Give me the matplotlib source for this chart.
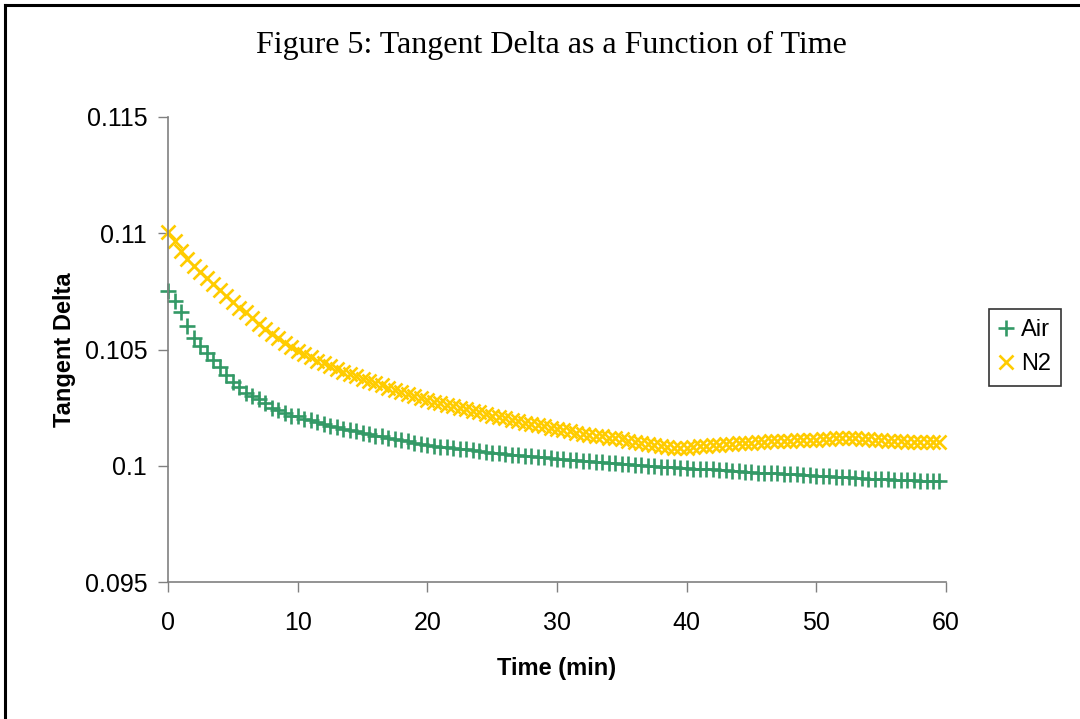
import matplotlib
matplotlib.use("Agg")
import matplotlib.pyplot as plt
from matplotlib.lines import Line2D

# time in minutes, sampled every 0.5 min
time_min = [i * 0.5 for i in range(120)]

air = [0.10752, 0.10710, 0.10660, 0.10600, 0.10548, 0.10515, 0.10485, 0.10455, 0.10425, 0.10392,
       0.10362, 0.10338, 0.10315, 0.10300, 0.10285, 0.10268, 0.10250, 0.10240, 0.10228, 0.10213,
       0.10215, 0.10203, 0.10196, 0.10188, 0.10180, 0.10172, 0.10168, 0.10160, 0.10152, 0.10148,
       0.10142, 0.10136, 0.10130, 0.10128, 0.10120, 0.10115, 0.10110, 0.10105, 0.10100, 0.10092,
       0.10088, 0.10085, 0.10082, 0.10080, 0.10076, 0.10072, 0.10070, 0.10067, 0.10062, 0.10060,
       0.10057, 0.10055, 0.10052, 0.10048, 0.10046, 0.10044, 0.10041, 0.10038, 0.10036, 0.10033,
       0.10030, 0.10028, 0.10025, 0.10024, 0.10021, 0.10019, 0.10017, 0.10015, 0.10013, 0.10011,
       0.10009, 0.10006, 0.10004, 0.10002, 0.10000, 0.09998, 0.09996, 0.09995, 0.09993, 0.09991,
       0.09990, 0.09988, 0.09987, 0.09985, 0.09984, 0.09982, 0.09980, 0.09978, 0.09976, 0.09974,
       0.09973, 0.09971, 0.09970, 0.09969, 0.09967, 0.09966, 0.09964, 0.09963, 0.09962, 0.09960,
       0.09958, 0.09956, 0.09955, 0.09953, 0.09951, 0.09950, 0.09948, 0.09946, 0.09945, 0.09944,
       0.09942, 0.09941, 0.09940, 0.09939, 0.09938, 0.09937, 0.09936, 0.09935, 0.09934, 0.09934]

n2 = [0.11005, 0.10965, 0.10925, 0.10890, 0.10858, 0.10832, 0.10806, 0.10780, 0.10756, 0.10730,
      0.10705, 0.10680, 0.10660, 0.10635, 0.10610, 0.10590, 0.10565, 0.10548, 0.10528, 0.10510,
      0.10495, 0.10480, 0.10466, 0.10452, 0.10440, 0.10428, 0.10416, 0.10405, 0.10394, 0.10384,
      0.10374, 0.10364, 0.10355, 0.10346, 0.10336, 0.10327, 0.10318, 0.10308, 0.10298, 0.10290,
      0.10282, 0.10275, 0.10268, 0.10262, 0.10255, 0.10248, 0.10242, 0.10236, 0.10230, 0.10222,
      0.10216, 0.10210, 0.10204, 0.10198, 0.10192, 0.10186, 0.10180, 0.10175, 0.10169, 0.10163,
      0.10158, 0.10153, 0.10148, 0.10143, 0.10138, 0.10134, 0.10130, 0.10126, 0.10121, 0.10118,
      0.10113, 0.10108, 0.10103, 0.10098, 0.10094, 0.10088, 0.10084, 0.10080, 0.10078, 0.10076,
      0.10077, 0.10080, 0.10083, 0.10086, 0.10088, 0.10090, 0.10092, 0.10094, 0.10096, 0.10098,
      0.10100, 0.10102, 0.10104, 0.10105, 0.10106, 0.10107, 0.10108, 0.10109, 0.10110, 0.10111,
      0.10112, 0.10114, 0.10116, 0.10118, 0.10120, 0.10120, 0.10118, 0.10116, 0.10114, 0.10112,
      0.10110, 0.10108, 0.10106, 0.10105, 0.10104, 0.10103, 0.10103, 0.10102, 0.10102, 0.10102]

x_ticks = [0, 10, 20, 30, 40, 50, 60]
y_ticks = [0.095, 0.1, 0.105, 0.11, 0.115]
y_tick_labels = ["0.095", "0.1", "0.105", "0.11", "0.115"]

sans = "Liberation Sans"
serif = "Liberation Serif"

fig = plt.figure(figsize=(10.8, 7.19), dpi=100)
ax = fig.add_axes([0.1556, 0.1905, 0.7203, 0.6468])

ax.plot(time_min, air, linestyle="none", marker="+", markersize=11,
        markeredgewidth=1.9, color="#339966", label="Air", clip_on=False)
ax.plot(time_min, n2, linestyle="none", marker="x", markersize=9.5,
        markeredgewidth=1.9, color="#FFCC00", label="N2", clip_on=False)

ax.set_xlim(0, 60)
ax.set_ylim(0.095, 0.115)
ax.set_xticks(x_ticks)
ax.set_xticklabels([str(t) for t in x_ticks], fontsize=18, fontfamily=sans)
ax.set_yticks(y_ticks)
ax.set_yticklabels(y_tick_labels, fontsize=18, fontfamily=sans)
ax.tick_params(direction="out", length=7, width=1, color="#808080")
ax.tick_params(axis="x", pad=14)
ax.tick_params(axis="y", pad=8)

for side in ["top", "right"]:
    ax.spines[side].set_visible(False)
for side in ["left", "bottom"]:
    ax.spines[side].set_color("#808080")
    ax.spines[side].set_linewidth(1.2)

ax.set_xlabel("Time (min)", fontsize=17, fontweight="bold", fontfamily=sans, labelpad=16)
ax.set_ylabel("Tangent Delta", fontsize=17, fontweight="bold", fontfamily=sans, labelpad=6)

fig.text(0.511, 0.937, "Figure 5: Tangent Delta as a Function of Time",
         ha="center", va="center", fontsize=23, fontfamily=serif)

leg = ax.legend(loc="center left", bbox_to_anchor=(1.055, 0.505), frameon=True,
                fancybox=False, prop={"family": sans, "size": 17},
                handlelength=0.6, handletextpad=0.3, borderpad=0.45,
                labelspacing=0.5, borderaxespad=0)
leg.get_frame().set_edgecolor("black")
leg.get_frame().set_linewidth(1.2)

# chart area border (left and top edges visible)
fig.add_artist(Line2D([5 / 1080, 5 / 1080], [0, 1 - 5 / 719], color="black", linewidth=2.2,
                      transform=fig.transFigure))
fig.add_artist(Line2D([5 / 1080, 1], [1 - 5 / 719, 1 - 5 / 719], color="black", linewidth=2.2,
                      transform=fig.transFigure))

fig.savefig("out.png", dpi=100)
